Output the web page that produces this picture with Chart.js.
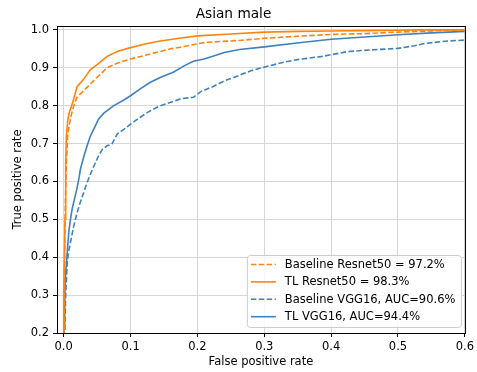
<!DOCTYPE html>
<html>
<head>
<meta charset="utf-8">
<script src="https://cdn.jsdelivr.net/npm/chart.js@4"></script>
<style>
  html, body { margin: 0; padding: 0; background: #fff; }
  #wrap { width: 477px; height: 372px; }
</style>
</head>
<body>
<div id="wrap"><canvas id="roc" width="477" height="372"></canvas></div>
<script>
// ── Data ──────────────────────────────────────────────────
const X_TICKS = [0.0, 0.1, 0.2, 0.3, 0.4, 0.5, 0.6];
const Y_TICKS = [0.2, 0.3, 0.4, 0.5, 0.6, 0.7, 0.8, 0.9, 1.0];

const BASE_RES_FPR = [0, 0.001, 0.002, 0.004, 0.006, 0.008, 0.012, 0.016, 0.02, 0.03, 0.04, 0.05, 0.065, 0.08, 0.1, 0.12, 0.14, 0.16, 0.174, 0.2, 0.213, 0.263, 0.303, 0.35, 0.402, 0.45, 0.5, 0.55, 0.6];
const BASE_RES_TPR = [0, 0.3, 0.5, 0.65, 0.72, 0.747, 0.78, 0.805, 0.822, 0.84, 0.857, 0.875, 0.9, 0.912, 0.923, 0.932, 0.941, 0.95, 0.954, 0.963, 0.967, 0.972, 0.978, 0.983, 0.988, 0.99, 0.994, 0.997, 1.0];

const TL_RES_FPR = [0, 0.0, 0.002, 0.003, 0.004, 0.006, 0.008, 0.012, 0.017, 0.02, 0.03, 0.04, 0.05, 0.065, 0.08, 0.1, 0.12, 0.14, 0.17, 0.2, 0.25, 0.3, 0.35, 0.4, 0.45, 0.5, 0.53, 0.6];
const TL_RES_TPR = [0, 0.3, 0.5, 0.65, 0.72, 0.76, 0.78, 0.8, 0.83, 0.85, 0.87, 0.895, 0.908, 0.93, 0.943, 0.953, 0.962, 0.969, 0.977, 0.984, 0.989, 0.994, 0.996, 0.997, 0.998, 0.999, 1.0, 1.0];

const BASE_VGG_FPR = [0, 0.0015, 0.003, 0.0055, 0.008, 0.01, 0.013, 0.015, 0.019, 0.023, 0.028, 0.035, 0.043, 0.052, 0.058, 0.065, 0.072, 0.08, 0.092, 0.1, 0.115, 0.129, 0.145, 0.159, 0.175, 0.194, 0.205, 0.223, 0.24, 0.263, 0.28, 0.303, 0.33, 0.352, 0.387, 0.426, 0.47, 0.5, 0.525, 0.54, 0.57, 0.6];
const BASE_VGG_TPR = [0, 0.21, 0.3, 0.393, 0.42, 0.438, 0.465, 0.482, 0.51, 0.535, 0.561, 0.597, 0.632, 0.667, 0.685, 0.694, 0.698, 0.725, 0.74, 0.751, 0.77, 0.786, 0.8, 0.808, 0.818, 0.822, 0.837, 0.85, 0.865, 0.88, 0.892, 0.903, 0.915, 0.922, 0.93, 0.943, 0.948, 0.951, 0.958, 0.964, 0.97, 0.973];

const TL_VGG_FPR = [0, 0.0005, 0.0015, 0.003, 0.0045, 0.006, 0.008, 0.011, 0.013, 0.017, 0.02, 0.023, 0.025, 0.03, 0.035, 0.04, 0.045, 0.052, 0.06, 0.075, 0.09, 0.1, 0.115, 0.129, 0.145, 0.164, 0.18, 0.194, 0.21, 0.223, 0.24, 0.263, 0.3, 0.352, 0.4, 0.45, 0.5, 0.55, 0.6];
const TL_VGG_TPR = [0, 0.21, 0.3, 0.36, 0.393, 0.43, 0.473, 0.51, 0.53, 0.56, 0.583, 0.61, 0.632, 0.665, 0.694, 0.72, 0.738, 0.764, 0.78, 0.8, 0.815, 0.826, 0.845, 0.861, 0.875, 0.888, 0.905, 0.917, 0.923, 0.93, 0.94, 0.948, 0.955, 0.966, 0.975, 0.981, 0.987, 0.992, 0.996];

const LABELS = [
  "Baseline Resnet50 = 97.2%",
  "TL Resnet50 = 98.3%",
  "Baseline VGG16, AUC=90.6%",
  "TL VGG16, AUC=94.4%",
];

// ── Styling ───────────────────────────────────────────────
const ORANGE = "#ff8410";
const BLUE = "#3f81bd";
const DASH = [5.5, 2.4];
const FONT = "'DejaVu Sans', sans-serif";
const FS = 11.5;

function pts(xs, ys) { return xs.map((x, i) => ({ x, y: ys[i] })); }

function series(label, xs, ys, color, dashed) {
  return {
    label,
    data: pts(xs, ys),
    borderColor: color,
    backgroundColor: color,
    borderWidth: 1.6,
    borderDash: dashed ? DASH : [],
    pointRadius: 0,
    tension: 0,
    fill: false,
  };
}

// ── Plugins: frame + inset legend ─────────────────────────
const framePlugin = {
  id: "frame",
  afterDatasetsDraw(chart) {
    const { ctx, chartArea: a } = chart;
    ctx.save();
    ctx.strokeStyle = "#000";
    ctx.lineWidth = 1;
    ctx.strokeRect(Math.round(a.left) + 0.5, Math.round(a.top) + 0.5,
      Math.round(a.right - a.left), Math.round(a.bottom - a.top));
    ctx.restore();
  },
};

const insetLegend = {
  id: "insetLegend",
  afterDraw(chart) {
    const { ctx, chartArea: a } = chart;
    const w = 214, h = 72;
    const x0 = a.right - 4 - w, y0 = a.bottom - 6 - h;
    ctx.save();
    ctx.beginPath();
    ctx.roundRect(x0 + 0.5, y0 + 0.5, w, h, 3);
    ctx.fillStyle = "rgba(255,255,255,0.8)";
    ctx.fill();
    ctx.strokeStyle = "#cccccc";
    ctx.lineWidth = 1;
    ctx.stroke();

    ctx.font = `${FS}px ${FONT}`;
    ctx.textBaseline = "middle";
    chart.data.datasets.forEach((ds, i) => {
      const y = y0 + 9.5 + i * 17.4;
      ctx.beginPath();
      ctx.setLineDash(ds.borderDash);
      ctx.strokeStyle = ds.borderColor;
      ctx.lineWidth = 1.6;
      ctx.moveTo(x0 + 4, y);
      ctx.lineTo(x0 + 29, y);
      ctx.stroke();
      ctx.setLineDash([]);
      ctx.fillStyle = "#000";
      ctx.fillText(ds.label, x0 + 38, y + 0.5);
    });
    ctx.restore();
  },
};

// ── Chart ─────────────────────────────────────────────────
new Chart(document.getElementById("roc"), {
  type: "line",
  data: {
    datasets: [
      series(LABELS[0], BASE_RES_FPR, BASE_RES_TPR, ORANGE, true),
      series(LABELS[1], TL_RES_FPR, TL_RES_TPR, ORANGE, false),
      series(LABELS[2], BASE_VGG_FPR, BASE_VGG_TPR, BLUE, true),
      series(LABELS[3], TL_VGG_FPR, TL_VGG_TPR, BLUE, false),
    ],
  },
  options: {
    responsive: false,
    animation: false,
    layout: { padding: { left: 0, top: 0, right: 10, bottom: 0 } },
    plugins: {
      legend: { display: false },
      tooltip: { enabled: false },
      title: {
        display: true,
        text: "Asian male",
        color: "#000",
        font: { family: FONT, size: 13.7, weight: "normal" },
        padding: { top: 6.5, bottom: 3.1 },
      },
    },
    scales: {
      x: {
        type: "linear",
        min: -0.01,
        max: 0.6,
        afterBuildTicks: s => { s.ticks = X_TICKS.map(v => ({ value: v })); },
        afterFit: s => { s.height = 39; },
        ticks: {
          color: "#000",
          font: { family: FONT, size: FS },
          padding: 3,
          maxRotation: 0,
          callback: v => v.toFixed(1),
        },
        grid: { color: "#d6d6d6", tickColor: "#000", tickLength: 4 },
        border: { display: false },
        title: {
          display: true,
          text: "False positive rate",
          color: "#000",
          font: { family: FONT, size: FS },
          padding: { top: 0, bottom: 3 },
        },
      },
      y: {
        type: "linear",
        min: 0.2,
        max: 1.01,
        afterBuildTicks: s => { s.ticks = Y_TICKS.map(v => ({ value: v })); },
        afterFit: s => { s.width = 57; },
        ticks: {
          color: "#000",
          font: { family: FONT, size: FS },
          padding: 4,
          callback: v => v.toFixed(1),
        },
        grid: { color: "#d6d6d6", tickColor: "#000", tickLength: 4 },
        border: { display: false },
        title: {
          display: true,
          text: "True positive rate",
          color: "#000",
          font: { family: FONT, size: FS },
          padding: { top: 11, bottom: 0 },
        },
      },
    },
  },
  plugins: [framePlugin, insetLegend],
});
</script>
</body>
</html>
